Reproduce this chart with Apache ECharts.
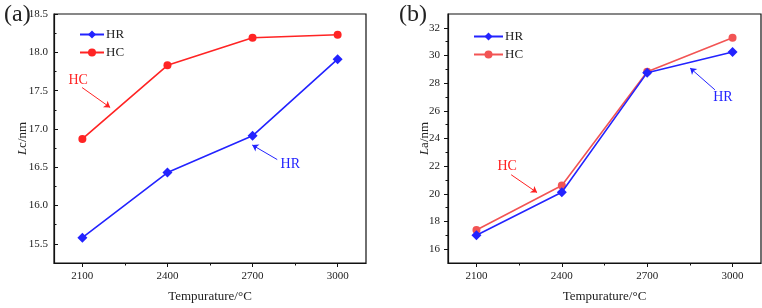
<!DOCTYPE html>
<html>
<head>
<meta charset="UTF-8">
<title>Lc / La vs temperature</title>
<script src="https://cdn.jsdelivr.net/npm/echarts@6/dist/echarts.min.js"></script>
<style>
  body { margin: 0; background: #fff; }
  #wrap { width: 762px; height: 308px; position: relative; }
  .pane { position: absolute; top: 0; height: 308px; }
</style>
</head>
<body>
<div id="wrap">
  <div id="chartA" class="pane" style="left:0;width:381px;"></div>
  <div id="chartB" class="pane" style="left:381px;width:381px;"></div>
</div>
<script>
// temperatures (x)
var temps = [2100, 2400, 2700, 3000];
var xMajor = [2100, 2400, 2700, 3000];
var xMinor = [2250, 2550, 2850];

// (a) Lc
var lcHR = [15.58, 16.43, 16.91, 17.91];
var lcHC = [16.87, 17.83, 18.19, 18.23];
var lcMajor = [15.5, 16.0, 16.5, 17.0, 17.5, 18.0, 18.5];
var lcMinor = [15.75, 16.25, 16.75, 17.25, 17.75, 18.25];

// (b) La
var laHR = [17.0, 20.12, 28.76, 30.26];
var laHC = [17.38, 20.6, 28.83, 31.29];
var laMajor = [16, 18, 20, 22, 24, 26, 28, 30, 32];
var laMinor = [17, 19, 21, 23, 25, 27, 29, 31];

var SERIF = '"Liberation Serif", "DejaVu Serif", serif';
var BLUE = '#2323ff';

function pairs(xs, ys) {
  return xs.map(function (x, i) { return [x, ys[i]]; });
}

function arrow(from, to, color) {
  return {
    silent: true,
    symbolSize: 6,
    lineStyle: { color: color, width: 1, type: 'solid' },
    label: { show: false },
    data: [[{ coord: from, symbol: 'none' }, { coord: to, symbol: 'arrow' }]]
  };
}

function note(pos, text, color) {
  return {
    silent: true,
    symbol: 'circle',
    symbolSize: 0,
    label: { show: true, position: 'inside', formatter: text, color: color, fontFamily: SERIF, fontSize: 14 },
    data: [{ coord: pos }]
  };
}

function buildOption(cfg) {
  var tickLabel = { fontFamily: SERIF, fontSize: 11, color: '#222' };
  return {
    animation: false,
    textStyle: { fontFamily: SERIF },
    title: {
      text: cfg.tag, left: cfg.tagLeft, top: -2,
      textStyle: { fontFamily: SERIF, fontSize: 24, fontWeight: 'normal', color: '#222' }
    },
    legend: {
      left: cfg.legLeft, top: cfg.legTop, orient: 'vertical', padding: 0,
      itemWidth: cfg.legW, itemHeight: 10, itemGap: 5,
      textStyle: { fontFamily: SERIF, fontSize: 13, color: '#222', padding: [0, 0, 0, -3] },
      data: ['HR', 'HC']
    },
    grid: {
      left: cfg.gridLeft, right: cfg.gridRight, top: 14, bottom: 43,
      show: true, borderColor: '#111', borderWidth: 1.2, backgroundColor: 'transparent'
    },
    xAxis: [{
      type: 'value', min: 2000, max: 3100,
      name: 'Tempurature/°C', nameLocation: 'middle', nameGap: 27, nameMoveOverlap: false,
      nameTextStyle: { fontFamily: SERIF, fontSize: 13, color: '#222' },
      axisLine: { lineStyle: { color: '#111', width: 1.2 } },
      axisTick: { length: 4, lineStyle: { color: '#111' }, customValues: xMajor },
      axisLabel: Object.assign({ margin: 8, customValues: xMajor, formatter: function (v) { return String(v); } }, tickLabel),
      splitLine: { show: false }
    }, {
      type: 'value', min: 2000, max: 3100, position: 'bottom',
      axisLine: { show: false },
      axisTick: { length: 2.5, lineStyle: { color: '#111' }, customValues: xMinor },
      axisLabel: { show: false, customValues: xMinor },
      splitLine: { show: false }
    }],
    yAxis: [{
      type: 'value', min: cfg.yMin, max: cfg.yMax,
      name: cfg.yName, nameLocation: 'middle', nameGap: cfg.yNameGap, nameRotate: 90,
      nameMoveOverlap: false,
      nameTextStyle: {
        fontFamily: SERIF, fontSize: 13, color: '#222',
        rich: { i: { fontFamily: SERIF, fontSize: 13, fontStyle: 'italic', color: '#222' } }
      },
      axisLine: { show: true, lineStyle: { color: '#111', width: 1.2 } },
      axisTick: { show: true, inside: cfg.yInside, length: 4, lineStyle: { color: '#111' }, customValues: cfg.yMajor },
      axisLabel: Object.assign({ margin: cfg.yMargin, customValues: cfg.yMajor, formatter: cfg.yFmt }, tickLabel),
      splitLine: { show: false }
    }, {
      type: 'value', min: cfg.yMin, max: cfg.yMax, position: 'left',
      axisLine: { show: false },
      axisTick: { show: true, inside: cfg.yInside, length: 2.5, lineStyle: { color: '#111' }, customValues: cfg.yMinor },
      axisLabel: { show: false, customValues: cfg.yMinor },
      splitLine: { show: false }
    }],
    series: [{
      name: 'HR', type: 'line', data: pairs(temps, cfg.hr),
      symbol: 'diamond', symbolSize: 10, color: BLUE,
      lineStyle: { width: 1.6, color: BLUE }, itemStyle: { color: BLUE },
      markLine: arrow(cfg.hrArrow[0], cfg.hrArrow[1], BLUE),
      markPoint: note(cfg.hrText, 'HR', BLUE),
      z: 3
    }, {
      name: 'HC', type: 'line', data: pairs(temps, cfg.hc),
      symbol: 'circle', symbolSize: 8, color: cfg.hcColor,
      lineStyle: { width: 1.6, color: cfg.hcColor }, itemStyle: { color: cfg.hcColor },
      markLine: arrow(cfg.hcArrow[0], cfg.hcArrow[1], cfg.hcText2Color || cfg.hcColor),
      markPoint: note(cfg.hcText, 'HC', cfg.hcText2Color || cfg.hcColor),
      z: 2
    }]
  };
}

var chartA = echarts.init(document.getElementById('chartA'));
chartA.setOption(buildOption({
  tag: '(a)', tagLeft: -1,
  legLeft: 79, legTop: 28, legW: 24,
  gridLeft: 54, gridRight: 15,
  yMin: 15.25, yMax: 18.5, yMajor: lcMajor, yMinor: lcMinor,
  yInside: true, yMargin: 6,
  yFmt: function (v) { return v.toFixed(1); },
  yName: '{i|L}c/nm', yNameGap: 25,
  hr: lcHR, hc: lcHC, hcColor: '#ff2424',
  hrArrow: [[2787, 16.60], [2699, 16.79]], hrText: [2833, 16.54],
  hcArrow: [[2099, 17.54], [2198, 17.28]], hcText: [2085, 17.64]
}));

var chartB = echarts.init(document.getElementById('chartB'));
chartB.setOption(buildOption({
  tag: '(b)', tagLeft: 13,
  legLeft: 92, legTop: 30, legW: 29,
  gridLeft: 67, gridRight: 1,
  yMin: 15, yMax: 33, yMajor: laMajor, yMinor: laMinor,
  yInside: false, yMargin: 8,
  yFmt: function (v) { return String(v); },
  yName: '{i|L}a/nm', yNameGap: 17,
  hr: laHR, hc: laHC, hcColor: '#f25454', hcText2Color: '#ff2020',
  hrArrow: [[2938, 27.52], [2851, 29.09]], hrText: [2966, 26.95],
  hcArrow: [[2222, 21.38], [2313, 20.09]], hcText: [2208, 22.02]
}));
</script>
</body>
</html>
